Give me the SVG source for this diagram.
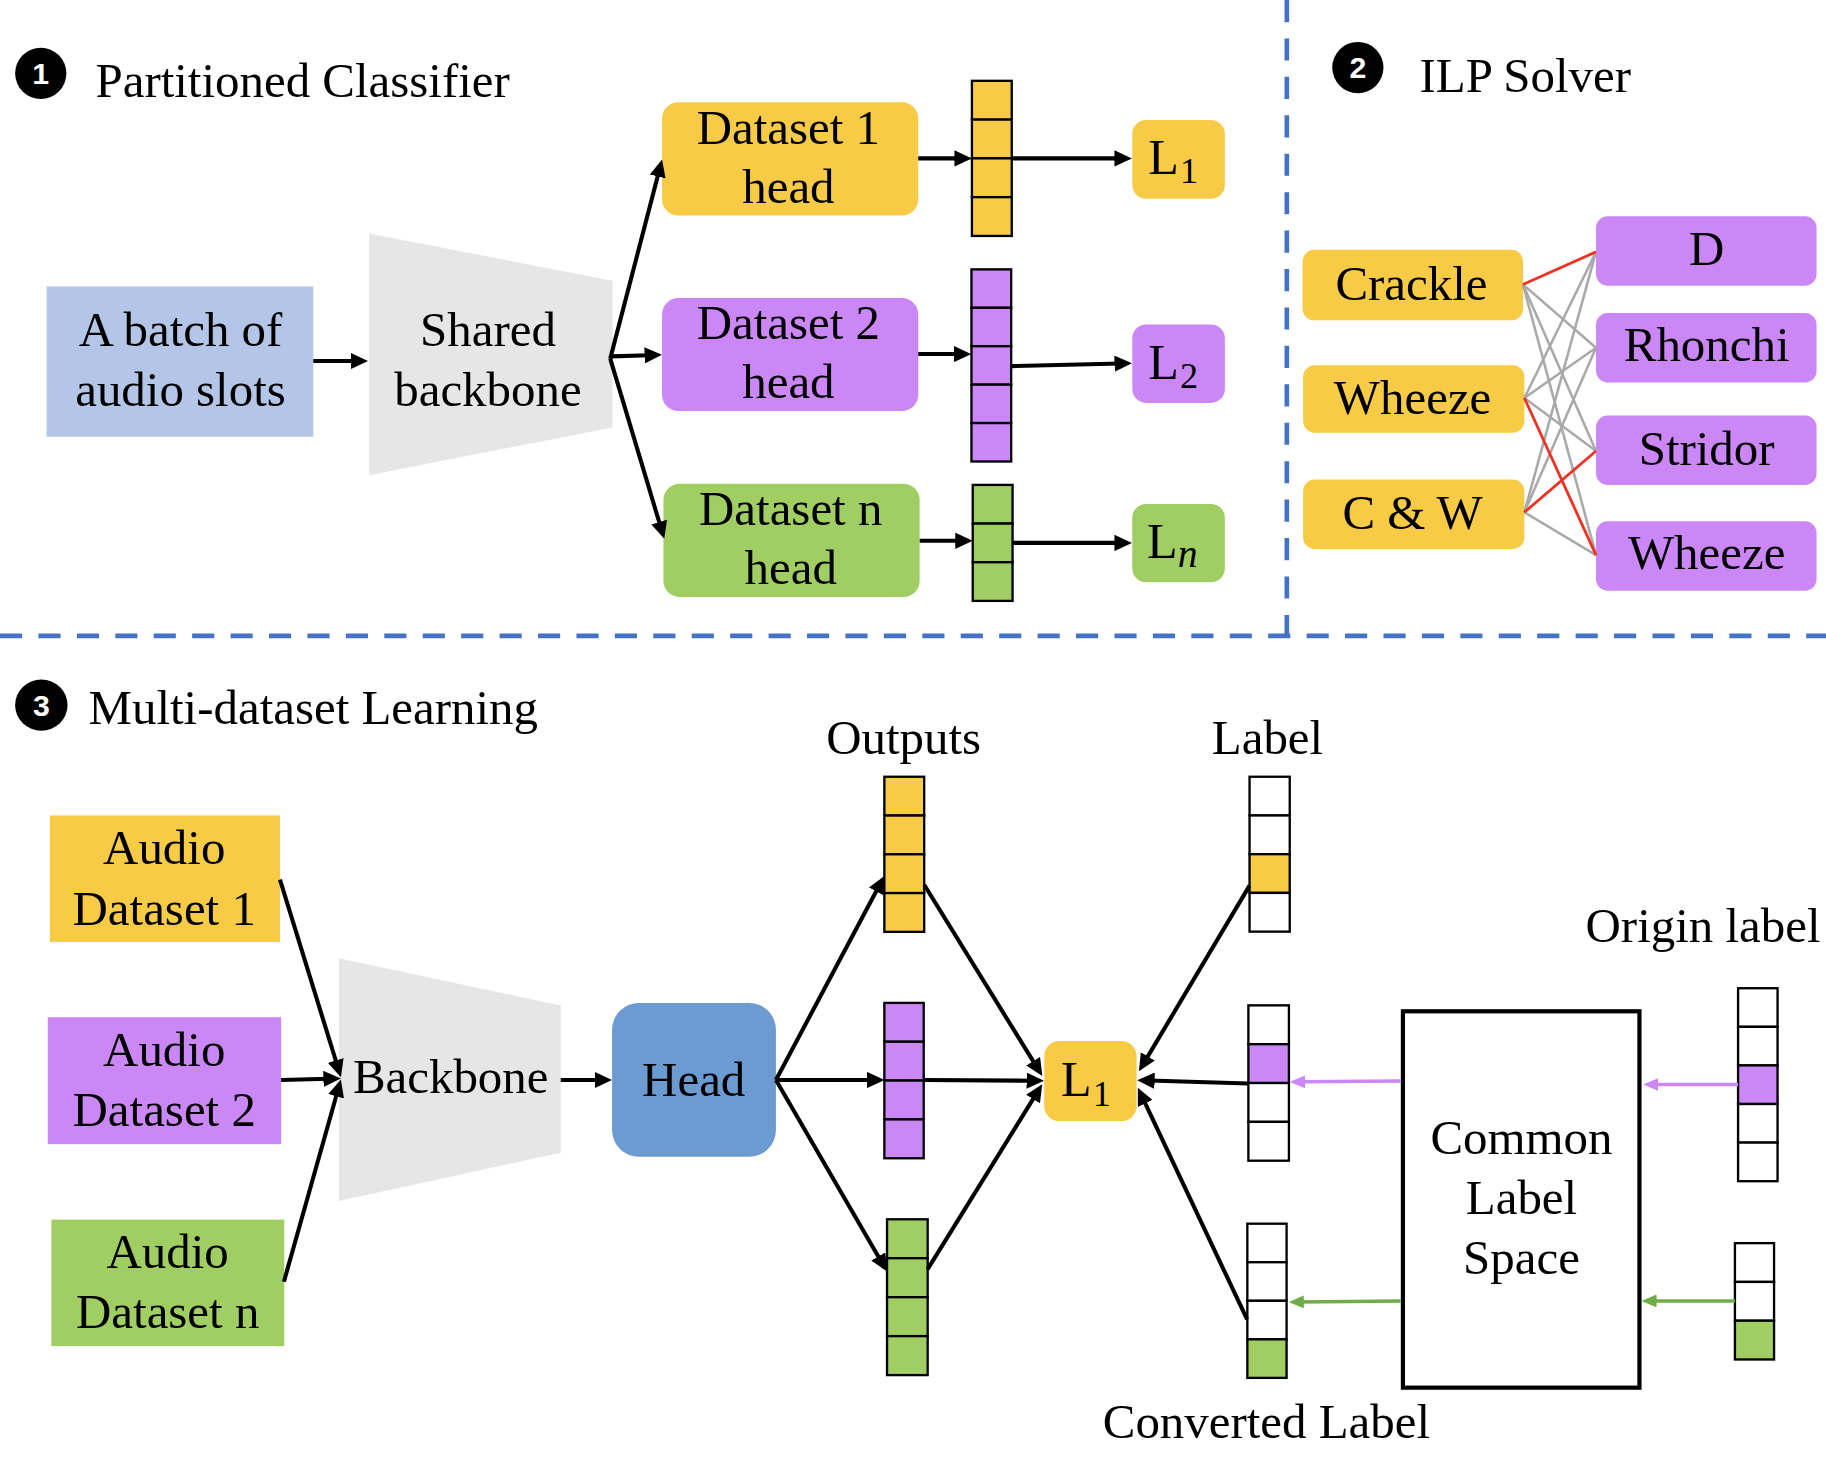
<svg xmlns="http://www.w3.org/2000/svg" width="1826" height="1466" viewBox="0 0 1826 1466">
<style>
.t{font-family:"Liberation Serif","Times New Roman",serif;font-size:42px;fill:#000;text-anchor:middle}
.ts{font-family:"Liberation Serif","Times New Roman",serif;font-size:42px;fill:#000}
.lt{font-family:"Liberation Serif","Times New Roman",serif;font-size:43px;fill:#000}
.sub{font-size:31px}
.badge{fill:#000}
.bn{font-family:"Liberation Sans",Arial,sans-serif;font-size:26px;font-weight:bold;fill:#fff;text-anchor:middle}
.y{fill:#F7CB46}
.p{fill:#CB87F6}
.g{fill:#A0CE62}
.w{fill:#fff}
.cell{stroke:#000;stroke-width:2}
.ar{stroke:#000;stroke-width:3.5;fill:none}
.gl{stroke:#A9A9A9;stroke-width:2.2;fill:none}
.rl{stroke:#EE3124;stroke-width:2.4;fill:none}
.dash{stroke:#4472C4;stroke-width:4;stroke-dasharray:19 14;fill:none}
.pa{stroke:#CB87F6;stroke-width:3;fill:none}
.ga{stroke:#70AD47;stroke-width:3;fill:none}
</style>
<defs>
<marker id="ah" markerUnits="userSpaceOnUse" markerWidth="15" markerHeight="14" refX="5" refY="7" orient="auto"><path d="M0,0 L15,7 L0,14 z" fill="#000"/></marker>
<marker id="ahp" markerUnits="userSpaceOnUse" markerWidth="13" markerHeight="11" refX="5" refY="5.5" orient="auto"><path d="M0,0 L13,5.5 L0,11 z" fill="#CB87F6"/></marker>
<marker id="ahg" markerUnits="userSpaceOnUse" markerWidth="13" markerHeight="11" refX="5" refY="5.5" orient="auto"><path d="M0,0 L13,5.5 L0,11 z" fill="#70AD47"/></marker>
</defs>
<rect width="1826" height="1466" fill="#fff"/>
<g transform="scale(1.16454)">
<g id="dividers">
<line class="dash" x1="0" y1="546" x2="1568" y2="546"/>
<line class="dash" x1="1105" y1="0" x2="1105" y2="546"/>
</g>
<g id="title1"><circle class="badge" cx="35" cy="63" r="22"/><text class="bn" x="35" y="72">1</text><text class="ts" x="82" y="83">Partitioned Classifier</text></g>
<g id="title2"><circle class="badge" cx="1166" cy="58" r="22"/><text class="bn" x="1166" y="67">2</text><text class="ts" x="1219" y="79">ILP Solver</text></g>
<g id="title3"><ellipse class="badge" cx="35.5" cy="605.5" rx="22.5" ry="22"/><text class="bn" x="35.5" y="614.5">3</text><text class="ts" x="76" y="622">Multi-dataset Learning</text></g>

<g id="batch"><rect x="40" y="246" width="229" height="129" fill="#B4C6E7"/><text class="t" x="155" y="297">A batch of</text><text class="t" x="155" y="349">audio slots</text></g>
<g id="shared-backbone"><polygon points="317,200.5 526,241 526,367 317,408" fill="#E6E6E6"/><text class="t" x="419" y="297">Shared</text><text class="t" x="419" y="349">backbone</text></g>
<g id="head1"><rect class="y" x="568.5" y="87.7" width="220" height="97.3" rx="14"/><text class="t" x="677" y="123.4">Dataset 1</text><text class="t" x="677" y="174.5">head</text></g>
<g id="head2"><rect class="p" x="568.5" y="256" width="220" height="97" rx="14"/><text class="t" x="677" y="291">Dataset 2</text><text class="t" x="677" y="341.8">head</text></g>
<g id="headn"><rect class="g" x="569.7" y="415.4" width="220" height="97.3" rx="14"/><text class="t" x="679" y="450.4">Dataset n</text><text class="t" x="679" y="501.2">head</text></g>
<g id="vec1" class="y"><rect class="cell" x="834.6" y="69.4" width="34.2" height="33.3"/><rect class="cell" x="834.6" y="102.7" width="34.2" height="33.3"/><rect class="cell" x="834.6" y="136" width="34.2" height="33.3"/><rect class="cell" x="834.6" y="169.3" width="34.2" height="33.3"/></g>
<g id="vec2" class="p"><rect class="cell" x="834.2" y="231.3" width="34.1" height="33"/><rect class="cell" x="834.2" y="264.3" width="34.1" height="33"/><rect class="cell" x="834.2" y="297.3" width="34.1" height="33"/><rect class="cell" x="834.2" y="330.3" width="34.1" height="33"/><rect class="cell" x="834.2" y="363.3" width="34.1" height="33"/></g>
<g id="vecn" class="g"><rect class="cell" x="835.3" y="416.4" width="34.2" height="33.2"/><rect class="cell" x="835.3" y="449.6" width="34.2" height="33.2"/><rect class="cell" x="835.3" y="482.8" width="34.2" height="33.2"/></g>
<g id="loss1"><rect class="y" x="972.3" y="103" width="79.5" height="67.7" rx="12"/><text class="lt" x="986" y="149.5">L<tspan class="sub" dx="1" dy="8">1</tspan></text></g>
<g id="loss2"><rect class="p" x="972.3" y="278.6" width="79.5" height="67.4" rx="12"/><text class="lt" x="986" y="325.5">L<tspan class="sub" dx="1" dy="8">2</tspan></text></g>
<g id="lossn"><rect class="g" x="972.3" y="432.8" width="79.5" height="67.2" rx="12"/><text class="lt" x="985" y="479.5">L<tspan font-size="34" font-style="italic" dy="7">n</tspan></text></g>

<g id="ilp-crackle"><rect class="y" x="1118.5" y="214.5" width="189.3" height="60.6" rx="10"/><text class="t" x="1212" y="257.6">Crackle</text></g>
<g id="ilp-wheeze-l"><rect class="y" x="1119" y="313.7" width="190" height="57.8" rx="10"/><text class="t" x="1213" y="355.8">Wheeze</text></g>
<g id="ilp-cw"><rect class="y" x="1119" y="411.8" width="190" height="59.6" rx="10"/><text class="t" x="1213" y="453.9">C &amp; W</text></g>
<g id="ilp-d"><rect class="p" x="1370.5" y="185.8" width="189.4" height="59.5" rx="10"/><text class="t" x="1465.5" y="227.8">D</text></g>
<g id="ilp-rhonchi"><rect class="p" x="1370.5" y="268.8" width="189.4" height="59.6" rx="10"/><text class="t" x="1465.5" y="310.2">Rhonchi</text></g>
<g id="ilp-stridor"><rect class="p" x="1370.5" y="356.8" width="189.4" height="59.6" rx="10"/><text class="t" x="1465.5" y="399.6">Stridor</text></g>
<g id="ilp-wheeze-r"><rect class="p" x="1370.5" y="447.6" width="189.4" height="59.6" rx="10"/><text class="t" x="1465.5" y="488.2">Wheeze</text></g>

<g id="audio1"><rect class="y" x="42.8" y="700.2" width="197.6" height="108.6"/><text class="t" x="141" y="742">Audio</text><text class="t" x="141" y="793.9">Dataset 1</text></g>
<g id="audio2"><rect class="p" x="41" y="873.5" width="200.4" height="109"/><text class="t" x="141" y="915.1">Audio</text><text class="t" x="141" y="966.8">Dataset 2</text></g>
<g id="audion"><rect class="g" x="44.1" y="1047.3" width="200" height="108.6"/><text class="t" x="144" y="1088.9">Audio</text><text class="t" x="144" y="1140">Dataset n</text></g>
<g id="backbone"><polygon points="291,822.8 481.5,863.5 481.5,989.8 291,1031.4" fill="#E6E6E6"/><text class="t" x="387" y="938.6">Backbone</text></g>
<g id="head"><rect x="525.6" y="861.2" width="140.7" height="132.2" rx="23" fill="#6C9BD2"/><text class="t" x="595.7" y="940.9">Head</text></g>
<g id="outputs-label"><text class="t" x="776" y="647.2">Outputs</text></g>
<g id="out-y"><rect class="cell y" x="759.4" y="667" width="34.2" height="33.3"/><rect class="cell y" x="759.4" y="700.3" width="34.2" height="33.3"/><rect class="cell y" x="759.4" y="733.6" width="34.2" height="33.3"/><rect class="cell y" x="759.4" y="766.9" width="34.2" height="33.3"/></g>
<g id="out-p"><rect class="cell p" x="759.4" y="861.2" width="33.8" height="33.35"/><rect class="cell p" x="759.4" y="894.55" width="33.8" height="33.35"/><rect class="cell p" x="759.4" y="927.9" width="33.8" height="33.35"/><rect class="cell p" x="759.4" y="961.25" width="33.8" height="33.35"/></g>
<g id="out-g"><rect class="cell g" x="761.7" y="1047" width="34.9" height="33.45"/><rect class="cell g" x="761.7" y="1080.45" width="34.9" height="33.45"/><rect class="cell g" x="761.7" y="1113.9" width="34.9" height="33.45"/><rect class="cell g" x="761.7" y="1147.35" width="34.9" height="33.45"/></g>
<g id="loss"><rect class="y" x="896.7" y="894" width="79.3" height="68.7" rx="13"/><text class="lt" x="911" y="941">L<tspan class="sub" dx="1" dy="9">1</tspan></text></g>
<g id="label-title"><text class="t" x="1088.4" y="647.2">Label</text></g>
<g id="lab-top"><rect class="cell w" x="1073" y="667" width="34.5" height="33.25"/><rect class="cell w" x="1073" y="700.25" width="34.5" height="33.25"/><rect class="cell y" x="1073" y="733.5" width="34.5" height="33.25"/><rect class="cell w" x="1073" y="766.75" width="34.5" height="33.25"/></g>
<g id="lab-mid"><rect class="cell w" x="1072" y="863.3" width="34.8" height="33.35"/><rect class="cell p" x="1072" y="896.65" width="34.8" height="33.35"/><rect class="cell w" x="1072" y="930" width="34.8" height="33.35"/><rect class="cell w" x="1072" y="963.35" width="34.8" height="33.35"/></g>
<g id="lab-bot"><rect class="cell w" x="1071.1" y="1050.8" width="33.7" height="33.1"/><rect class="cell w" x="1071.1" y="1083.9" width="33.7" height="33.1"/><rect class="cell w" x="1071.1" y="1117" width="33.7" height="33.1"/><rect class="cell g" x="1071.1" y="1150.1" width="33.7" height="33.1"/></g>
<g id="converted-label"><text class="t" x="1087.5" y="1234.5">Converted Label</text></g>
<g id="common"><rect x="1204.7" y="868.4" width="203.1" height="323.2" fill="#fff" stroke="#000" stroke-width="3.6"/><text class="t" x="1306.5" y="991.2">Common</text><text class="t" x="1306.5" y="1042.8">Label</text><text class="t" x="1306.5" y="1094">Space</text></g>
<g id="origin-title"><text class="t" x="1462.4" y="808.7">Origin label</text></g>
<g id="orig-top"><rect class="cell w" x="1492.5" y="848.6" width="33.9" height="33.14"/><rect class="cell w" x="1492.5" y="881.74" width="33.9" height="33.14"/><rect class="cell p" x="1492.5" y="914.88" width="33.9" height="33.14"/><rect class="cell w" x="1492.5" y="948.02" width="33.9" height="33.14"/><rect class="cell w" x="1492.5" y="981.16" width="33.9" height="33.14"/></g>
<g id="orig-bot"><rect class="cell w" x="1489.8" y="1067.5" width="33.6" height="33.3"/><rect class="cell w" x="1489.8" y="1100.8" width="33.6" height="33.3"/><rect class="cell g" x="1489.8" y="1134.1" width="33.6" height="33.3"/></g>

<g id="connectors">
<line class="ar" x1="269" y1="310" x2="306" y2="310" marker-end="url(#ah)"/>
<line class="ar" x1="524" y1="308" x2="566" y2="146.7" marker-end="url(#ah)"/>
<line class="ar" x1="524" y1="306" x2="558.5" y2="305" marker-end="url(#ah)"/>
<line class="ar" x1="524" y1="308" x2="567.5" y2="453.1" marker-end="url(#ah)"/>
<line class="ar" x1="788.5" y1="136" x2="824.6" y2="136" marker-end="url(#ah)"/>
<line class="ar" x1="868.8" y1="136" x2="962" y2="136" marker-end="url(#ah)"/>
<line class="ar" x1="788.5" y1="304" x2="824" y2="304" marker-end="url(#ah)"/>
<line class="ar" x1="868.3" y1="314.4" x2="962" y2="312.2" marker-end="url(#ah)"/>
<line class="ar" x1="789.8" y1="464.4" x2="825.3" y2="464.4" marker-end="url(#ah)"/>
<line class="ar" x1="869.5" y1="466.2" x2="962" y2="466.2" marker-end="url(#ah)"/>

<line class="gl" x1="1307.8" y1="244.3" x2="1370.5" y2="298.6"/>
<line class="gl" x1="1307.8" y1="244.3" x2="1370.5" y2="387.3"/>
<line class="gl" x1="1307.8" y1="244.3" x2="1370.5" y2="476.7"/>
<line class="gl" x1="1309" y1="341.8" x2="1370.5" y2="216.3"/>
<line class="gl" x1="1309" y1="341.8" x2="1370.5" y2="298.6"/>
<line class="gl" x1="1309" y1="341.8" x2="1370.5" y2="387.3"/>
<line class="gl" x1="1309" y1="439.9" x2="1370.5" y2="216.3"/>
<line class="gl" x1="1309" y1="439.9" x2="1370.5" y2="298.6"/>
<line class="gl" x1="1309" y1="439.9" x2="1370.5" y2="476.7"/>
<line class="rl" x1="1307.8" y1="244.3" x2="1370.5" y2="216.3"/>
<line class="rl" x1="1309" y1="341.8" x2="1370.5" y2="476.7"/>
<line class="rl" x1="1309" y1="439.9" x2="1370.5" y2="387.3"/>

<line class="ar" x1="240.4" y1="755.4" x2="289.8" y2="915.4" marker-end="url(#ah)"/>
<line class="ar" x1="241.4" y1="927.4" x2="282.7" y2="926.3" marker-end="url(#ah)"/>
<line class="ar" x1="243.8" y1="1100.6" x2="290" y2="936.6" marker-end="url(#ah)"/>
<line class="ar" x1="481.5" y1="927.4" x2="515.6" y2="927.4" marker-end="url(#ah)"/>
<line class="ar" x1="666.3" y1="927.4" x2="754.7" y2="761" marker-end="url(#ah)"/>
<line class="ar" x1="666.3" y1="927.4" x2="749.4" y2="927.4" marker-end="url(#ah)"/>
<line class="ar" x1="666.3" y1="927.4" x2="756.7" y2="1083.3" marker-end="url(#ah)"/>
<line class="ar" x1="793.6" y1="759.7" x2="889.8" y2="915.5" marker-end="url(#ah)"/>
<line class="ar" x1="793.2" y1="927.4" x2="886.5" y2="928" marker-end="url(#ah)"/>
<line class="ar" x1="796.6" y1="1089.8" x2="889.7" y2="939.5" marker-end="url(#ah)"/>
<line class="ar" x1="1073" y1="760.5" x2="983.1" y2="911.4" marker-end="url(#ah)"/>
<line class="ar" x1="1071.9" y1="930.4" x2="986.5" y2="927.9" marker-end="url(#ah)"/>
<line class="ar" x1="1070.9" y1="1133" x2="981.3" y2="943" marker-end="url(#ah)"/>
<line class="pa" x1="1202.9" y1="928.3" x2="1115.6" y2="929" marker-end="url(#ahp)"/>
<line class="ga" x1="1202.9" y1="1117.1" x2="1114.6" y2="1118" marker-end="url(#ahg)"/>
<line class="pa" x1="1492.5" y1="931.3" x2="1419" y2="931.3" marker-end="url(#ahp)"/>
<line class="ga" x1="1489.8" y1="1117.1" x2="1417.5" y2="1117.1" marker-end="url(#ahg)"/>
</g>
</g>
</svg>
